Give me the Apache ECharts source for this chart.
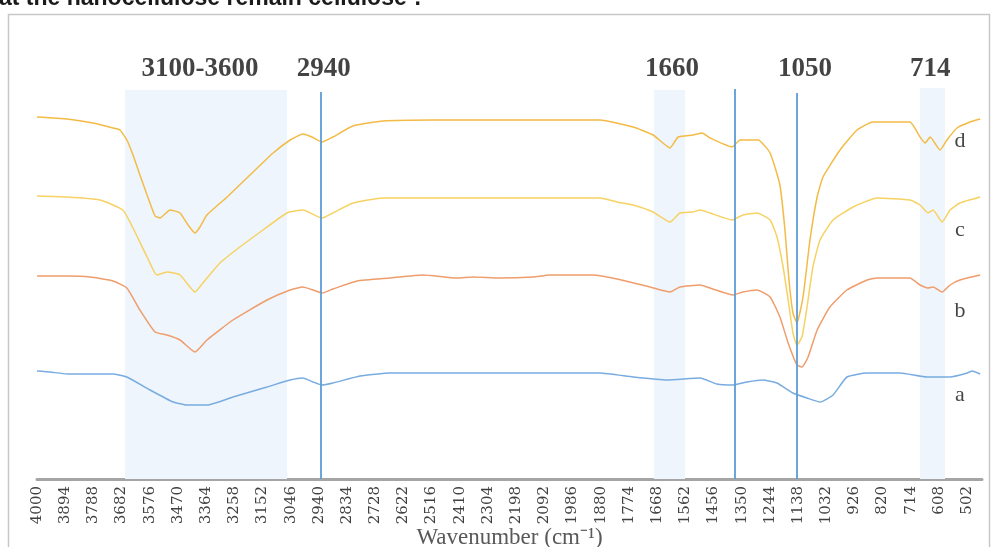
<!DOCTYPE html>
<html><head><meta charset="utf-8">
<script src="https://cdn.jsdelivr.net/npm/echarts@6/dist/echarts.min.js"></script>
<style>html,body{margin:0;padding:0;background:#fff;}#chart{width:993px;height:547px;}</style>
</head><body><div id="chart"></div>
<script>
// Tick labels (wavenumber, cm-1)
const tickLabels = [4000,3894,3788,3682,3576,3470,3364,3258,3152,3046,2940,2834,2728,2622,2516,2410,2304,2198,2092,1986,1880,1774,1668,1562,1456,1350,1244,1138,1032,926,820,714,608,502];

// Spectra: [wavenumber, transmittance (offset, a.u.)]
const spectrumA = [[4000,27],[3951,26.75],[3887,26.25],[3714,26.25],[3662,25.5],[3575,22.25],[3488,19.25],[3436,18.5],[3361,18.5],[3263,20.5],[3135,23],[3048,24.75],[3000,25.25],[2962,24.25],[2928,23.5],[2887,24],[2785,25.75],[2672,26.5],[1883,26.5],[1758,25.5],[1631,24.75],[1506,25.25],[1443,23.75],[1382,23.5],[1330,24.25],[1270,24.75],[1217,24],[1157,21.5],[1104,20.25],[1055,19.25],[1006,21],[954,25.5],[878,26.5],[754,26.5],[653,25.5],[566,25.5],[502,26.5],[483,27],[453,26.25]];
const spectrumB = [[4000,50.75],[3887,50.75],[3801,50.5],[3714,49.5],[3662,47.75],[3613,42.25],[3556,36.75],[3511,36],[3462,34.75],[3406,31.75],[3361,34.75],[3263,39.75],[3135,44.75],[3048,47.25],[3000,48],[2962,47.25],[2928,46.5],[2887,47.5],[2796,49.5],[2672,50.25],[2548,51],[2420,50.25],[2360,50.5],[2259,50.25],[2135,50.5],[2071,51],[1909,51],[1819,50],[1694,48],[1619,46.75],[1582,48],[1506,48.5],[1458,47.5],[1382,46],[1345,46.75],[1292,47.25],[1243,45.5],[1206,40.5],[1175,34],[1142,28.5],[1123,28],[1100,30.5],[1066,37.25],[1018,43],[954,47.25],[878,49.75],[841,50.25],[717,50.25],[679,48.5],[649,47.75],[630,48],[596,46.75],[566,48.5],[529,49.75],[453,51]];
const spectrumC = [[4000,70.75],[3887,70.5],[3763,69.75],[3677,67.25],[3639,62.75],[3586,55.5],[3549,51],[3511,51.75],[3462,51],[3406,46.75],[3376,49],[3312,54],[3237,58],[3150,62.25],[3060,66.5],[3000,67.25],[2928,65.25],[2887,66.5],[2812,69],[2699,70.25],[2511,70.25],[1883,70.25],[1819,69.25],[1758,68.5],[1683,66.75],[1619,64.25],[1582,66.5],[1533,66.75],[1506,67.25],[1469,66.5],[1386,64.75],[1345,66],[1292,66.5],[1243,64.75],[1217,60.5],[1194,53],[1175,44.75],[1157,36.5],[1142,33.5],[1123,35.5],[1104,43],[1082,53],[1055,59.75],[1006,64.75],[931,68],[841,70.25],[717,69.75],[679,68.5],[649,66.5],[630,67.25],[596,64.25],[566,67.25],[529,69],[453,70.5]];
const spectrumD = [[4000,90.5],[3887,90],[3789,89],[3714,87.75],[3688,87.25],[3662,84.75],[3639,81],[3613,76],[3586,71],[3556,65.75],[3537,65.25],[3500,67.25],[3462,66.5],[3432,63.5],[3406,61.5],[3387,63],[3361,66],[3285,70.5],[3199,76],[3112,81.5],[3048,84.75],[3000,86.25],[2966,85.5],[2928,84.25],[2887,85.5],[2812,88.25],[2699,89.5],[2511,89.75],[1883,89.75],[1758,88],[1683,86],[1619,82.75],[1589,85.5],[1533,86],[1499,86.5],[1469,85.25],[1386,83],[1356,84.75],[1288,84.75],[1243,81.5],[1206,73.5],[1187,62.25],[1172,49.75],[1157,41.5],[1142,39],[1119,45.5],[1093,59.75],[1066,70.5],[1044,75.5],[980,82.25],[916,87.25],[856,89.25],[717,89.25],[679,85.5],[660,84],[641,85.5],[604,82.25],[578,84.75],[540,87.75],[491,89.25],[453,90]];

// Shaded bands [from, to, top level] and marker lines [wavenumber, top level]
const bandFrom = [3669, 1680, 679];
const bandTo = [3060, 1563, 585];
const bandTop = [97.25, 97.25, 97.75];
const lineWave = [2932, 1375, 1142];
const lineTop = [96.75, 97.5, 96.5];

// Peak annotations
const peakText = ['3100-3600', '2940', '1660', '1050', '714'];
const peakWave = [3387, 2922, 1612, 1112, 641];
const peakLevel = 102.4;

// Curve labels
const curveNames = ['a', 'b', 'c', 'd'];
const curveLabelWave = 529;
const curveLabelLevel = [21, 42, 62.25, 84.5];

const colors = {a:'#78ace0', b:'#ef9d6c', c:'#f6d262', d:'#f3bb45'};

const chart = echarts.init(document.getElementById('chart'), null, {renderer:'canvas'});

function lineSeries(name, data, color) {
  return {
    name, type:'line', data, showSymbol:false, symbol:'none', smooth:0.15,
    lineStyle:{color, width:1.5}, itemStyle:{color}, silent:true, z:2
  };
}

const sA = lineSeries('a', spectrumA, colors.a);
sA.markArea = {
  silent:true,
  itemStyle:{color:'#eef5fc'},
  data: bandFrom.map((f, i) => [{xAxis:f, yAxis:0}, {xAxis:bandTo[i], yAxis:bandTop[i]}])
};

const option = {
  animation:false,
  backgroundColor:'#ffffff',
  grid:{left:37, right:11, top:39, bottom:68, outerBoundsMode:'none'},
  xAxis:{
    type:'value', inverse:true, min:446, max:4000,
    axisLine:{show:true, onZero:false, lineStyle:{color:'#a5a5a5', width:3}},
    axisTick:{show:false},
    splitLine:{show:false},
    axisLabel:{customValues:tickLabels, formatter:v => String(v), rotate:90, fontFamily:'DejaVu Serif', fontSize:15, color:'#404040', margin:7},
    name:'Wavenumber (cm⁻¹)', nameLocation:'middle', nameGap:47, nameMoveOverlap:false,
    nameTextStyle:{fontFamily:'Liberation Serif', fontSize:23, color:'#595959'}
  },
  yAxis:{type:'value', min:0, max:110, show:false},
  series:[
    sA,
    lineSeries('b', spectrumB, colors.b),
    lineSeries('c', spectrumC, colors.c),
    lineSeries('d', spectrumD, colors.d),
    {
      name:'peaks', type:'scatter', z:4, silent:true,
      symbolSize:1, itemStyle:{color:'rgba(0,0,0,0)'},
      data: peakText.map((t, i) => [peakWave[i], peakLevel, t]),
      label:{show:true, position:'inside', formatter:p => p.data[2],
        fontFamily:'Liberation Serif', fontWeight:'bold', fontSize:27, color:'#141414'},
      markLine:{
        silent:true, symbol:['none','none'], label:{show:false},
        lineStyle:{color:'#5b9bd5', width:2, type:'solid', opacity:0.9},
        data: lineWave.map((w, i) => [{coord:[w, 0]}, {coord:[w, lineTop[i]]}])
      }
    },
    {
      name:'curveLabels', type:'scatter', z:4, silent:true,
      symbolSize:1, itemStyle:{color:'rgba(0,0,0,0)'},
      data: curveNames.map((n, i) => [curveLabelWave, curveLabelLevel[i], n]),
      label:{show:true, position:'inside', formatter:p => p.data[2],
        fontFamily:'Liberation Serif', fontSize:22, color:'#141414'}
    }
  ],
  graphic:[
    {type:'rect', silent:true, z:-10, shape:{x:8.5, y:14.5, width:981, height:560},
     style:{fill:'none', stroke:'#c8c8c8', lineWidth:1.5}},
    {type:'text', silent:true, x:-1, y:10,
     style:{text:'at the nanocellulose remain cellulose¹.', font:'bold 23px "Liberation Sans"', fill:'#1a1a1a', verticalAlign:'bottom'}}
  ]
};
chart.setOption(option);
</script>
</body></html>
